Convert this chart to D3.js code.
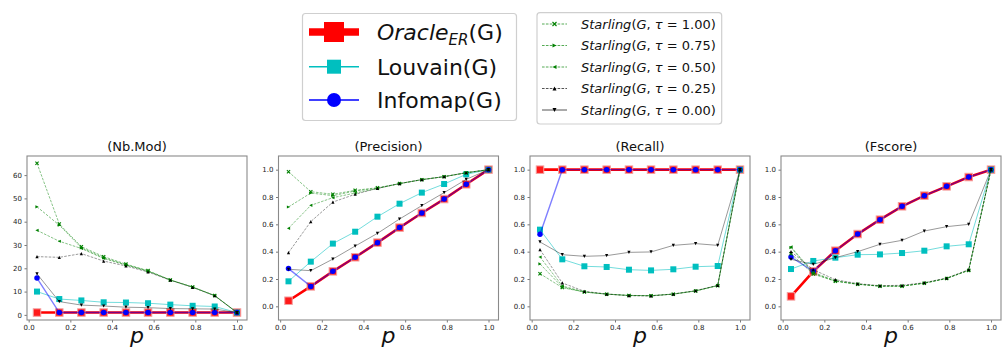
<!DOCTYPE html>
<html>
<head>
<meta charset="utf-8">
<script src="https://cdn.jsdelivr.net/npm/d3@7/dist/d3.min.js"></script>
<style>
  html, body { margin: 0; padding: 0; background: #fff; }
  svg { display: block; font-family: "DejaVu Sans", sans-serif; }
</style>
</head>
<body>
<svg id="chart" width="1008" height="348"></svg>
<script>
// Edge probability p (x values shared by every panel)
const pValues = [0.04, 0.147, 0.253, 0.36, 0.467, 0.573, 0.68, 0.787, 0.893, 1.0];
const xTicks = [0.0, 0.2, 0.4, 0.6, 0.8, 1.0];

// (Nb.Mod)
const nbModOracle  = [1, 1, 1, 1, 1, 1, 1, 1, 1, 1];
const nbModLouvain = [10.0, 6.8, 6.2, 5.4, 5.3, 5.0, 4.4, 3.9, 3.6, 1.0];
const nbModInfomap = [15.8, 1, 1, 1, 1, 1, 1, 1, 1, 1];
const nbModS100 = [65.1, 39.0, 29.3, 25.0, 21.8, 19.0, 15.0, 12.0, 8.3, 1.0];
const nbModS075 = [46.4, 38.5, 28.8, 24.5, 21.5, 18.8, 15.0, 11.9, 8.3, 1.0];
const nbModS050 = [36.3, 31.6, 28.5, 24.2, 21.4, 18.7, 14.9, 11.9, 8.2, 1.0];
const nbModS025 = [25.0, 24.7, 26.3, 23.1, 21.0, 18.4, 14.9, 11.8, 8.2, 1.0];
const nbModS000 = [17.6, 5.7, 4.2, 3.8, 3.3, 3.1, 2.7, 2.6, 2.5, 1.0];

// (Precision)
const precOracle  = [0.041, 0.146, 0.256, 0.359, 0.466, 0.576, 0.683, 0.785, 0.893, 1.0];
const precLouvain = [0.183, 0.327, 0.459, 0.546, 0.656, 0.751, 0.832, 0.895, 0.966, 1.0];
const precInfomap = [0.276, 0.146, 0.256, 0.359, 0.466, 0.576, 0.683, 0.785, 0.893, 1.0];
const precS100 = [0.985, 0.839, 0.820, 0.849, 0.868, 0.898, 0.927, 0.949, 0.976, 1.0];
const precS075 = [0.727, 0.829, 0.810, 0.844, 0.864, 0.898, 0.927, 0.949, 0.978, 1.0];
const precS050 = [0.571, 0.739, 0.795, 0.829, 0.862, 0.898, 0.927, 0.949, 0.978, 1.0];
const precS025 = [0.393, 0.620, 0.763, 0.820, 0.863, 0.898, 0.927, 0.949, 0.978, 1.0];
const precS000 = [0.271, 0.261, 0.346, 0.441, 0.534, 0.639, 0.737, 0.832, 0.929, 1.0];

// (Recall)
const recOracle  = [1, 1, 1, 1, 1, 1, 1, 1, 1, 1];
const recLouvain = [0.561, 0.344, 0.293, 0.288, 0.268, 0.263, 0.271, 0.290, 0.295, 1.0];
const recInfomap = [0.527, 1, 1, 1, 1, 1, 1, 1, 1, 1];
const recS100 = [0.239, 0.137, 0.104, 0.089, 0.079, 0.077, 0.089, 0.112, 0.151, 1.0];
const recS075 = [0.310, 0.141, 0.105, 0.089, 0.080, 0.078, 0.090, 0.113, 0.152, 1.0];
const recS050 = [0.361, 0.149, 0.106, 0.090, 0.080, 0.078, 0.090, 0.113, 0.152, 1.0];
const recS025 = [0.415, 0.171, 0.110, 0.090, 0.078, 0.076, 0.090, 0.115, 0.154, 1.0];
const recS000 = [0.471, 0.378, 0.366, 0.371, 0.395, 0.398, 0.446, 0.459, 0.446, 1.0];

// (Fscore)
const fOracle  = [0.073, 0.256, 0.407, 0.529, 0.634, 0.732, 0.810, 0.878, 0.946, 1.0];
const fLouvain = [0.273, 0.332, 0.356, 0.378, 0.380, 0.390, 0.407, 0.439, 0.454, 1.0];
const fInfomap = [0.361, 0.256, 0.407, 0.529, 0.634, 0.732, 0.810, 0.878, 0.946, 1.0];
const fS100 = [0.385, 0.236, 0.183, 0.161, 0.147, 0.147, 0.169, 0.203, 0.263, 1.0];
const fS075 = [0.430, 0.241, 0.185, 0.162, 0.148, 0.148, 0.170, 0.204, 0.264, 1.0];
const fS050 = [0.435, 0.248, 0.187, 0.163, 0.148, 0.148, 0.170, 0.205, 0.265, 1.0];
const fS025 = [0.400, 0.268, 0.195, 0.166, 0.151, 0.154, 0.173, 0.207, 0.268, 1.0];
const fS000 = [0.344, 0.307, 0.356, 0.400, 0.454, 0.483, 0.551, 0.583, 0.600, 1.0];

const panelTitles = ["(Nb.Mod)", "(Precision)", "(Recall)", "(Fscore)"];
const nbModTicks = [0, 10, 20, 30, 40, 50, 60];
const rateTicks = [0.0, 0.2, 0.4, 0.6, 0.8, 1.0];

const starlingTaus = ["1.00", "0.75", "0.50", "0.25", "0.00"];

// ---- styles -------------------------------------------------------------
const GREEN = "#008000";
const styles = {
  oracle:  { color: "#ff0000", width: 2.6, dash: null, marker: "square", size: 7.5, opacity: 1 },
  louvain: { color: "#00bfbf", width: 1,   dash: null, marker: "square", size: 6,   opacity: 0.55 },
  infomap: { color: "#0000ff", width: 1.4, dash: null, marker: "circle", size: 5.5, opacity: 0.5 },
  s100: { color: GREEN,  width: 0.8, dash: "2.6,1.3", marker: "x",   size: 3.2, opacity: 0.6 },
  s075: { color: GREEN,  width: 0.8, dash: "2.6,1.3", marker: ">",   size: 3.2, opacity: 0.6 },
  s050: { color: GREEN,  width: 0.8, dash: "2.6,1.3", marker: "<",   size: 3.2, opacity: 0.6 },
  s025: { color: "#000", width: 0.8, dash: "2.6,1.3", marker: "^",   size: 3.2, opacity: 0.5 },
  s000: { color: "#000", width: 0.8, dash: null,      marker: "v",   size: 3.2, opacity: 0.5 }
};

const panels = [
  { title: panelTitles[0], yDomain: [-2.2, 68.2], yTicks: nbModTicks, fmt: d3.format("d"),
    series: { oracle: nbModOracle, louvain: nbModLouvain, infomap: nbModInfomap,
              s100: nbModS100, s075: nbModS075, s050: nbModS050, s025: nbModS025, s000: nbModS000 } },
  { title: panelTitles[1], yDomain: [-0.1, 1.1], yTicks: rateTicks, fmt: d3.format(".1f"),
    series: { oracle: precOracle, louvain: precLouvain, infomap: precInfomap,
              s100: precS100, s075: precS075, s050: precS050, s025: precS025, s000: precS000 } },
  { title: panelTitles[2], yDomain: [-0.1, 1.1], yTicks: rateTicks, fmt: d3.format(".1f"),
    series: { oracle: recOracle, louvain: recLouvain, infomap: recInfomap,
              s100: recS100, s075: recS075, s050: recS050, s025: recS025, s000: recS000 } },
  { title: panelTitles[3], yDomain: [-0.1, 1.1], yTicks: rateTicks, fmt: d3.format(".1f"),
    series: { oracle: fOracle, louvain: fLouvain, infomap: fInfomap,
              s100: fS100, s075: fS075, s050: fS050, s025: fS025, s000: fS000 } }
];

const drawOrder = ["oracle", "louvain", "infomap", "s100", "s075", "s050", "s025", "s000"];

// ---- marker drawing -----------------------------------------------------
function drawMarker(g, kind, x, y, s, st) {
  const h = s / 2;
  if (kind === "square") {
    g.append("rect").attr("x", x - h).attr("y", y - h).attr("width", s).attr("height", s)
      .attr("fill", st.color).attr("stroke", st.edge || "none").attr("stroke-width", st.edgeWidth || 0);
  } else if (kind === "circle") {
    g.append("circle").attr("cx", x).attr("cy", y).attr("r", h).attr("fill", st.color);
  } else if (kind === "x") {
    g.append("path").attr("d", `M${x-h},${y-h}L${x+h},${y+h}M${x-h},${y+h}L${x+h},${y-h}`)
      .attr("stroke", st.color).attr("stroke-width", 1.1).attr("fill", "none");
  } else {
    let pts;
    if (kind === "^") pts = [[x, y - h], [x + h, y + h], [x - h, y + h]];
    if (kind === "v") pts = [[x, y + h], [x + h, y - h], [x - h, y - h]];
    if (kind === ">") pts = [[x + h, y], [x - h, y - h], [x - h, y + h]];
    if (kind === "<") pts = [[x - h, y], [x + h, y - h], [x + h, y + h]];
    g.append("path").attr("d", "M" + pts.map(p => p.join(",")).join("L") + "Z").attr("fill", st.color);
  }
}

const svg = d3.select("#chart");

// ---- panels -------------------------------------------------------------
const axW = 220, axTop = 156, axBottom = 320;
const axLefts = [27, 278.5, 530, 781];

panels.forEach((pan, i) => {
  const left = axLefts[i];
  const x = d3.scaleLinear().domain([-0.008, 1.048]).range([left, left + axW]);
  const y = d3.scaleLinear().domain(pan.yDomain).range([axBottom, axTop]);
  const g = svg.append("g");

  // axes
  const xAxis = d3.axisBottom(x).tickValues(xTicks).tickFormat(d3.format(".1f")).tickSizeOuter(0).tickSize(2.5).tickPadding(2.5);
  const yAxis = d3.axisLeft(y).tickValues(pan.yTicks).tickFormat(pan.fmt).tickSizeOuter(0).tickSize(2.5).tickPadding(2.5);
  const gx = g.append("g").attr("transform", `translate(0,${axBottom})`).call(xAxis);
  const gy = g.append("g").attr("transform", `translate(${left},0)`).call(yAxis);
  [gx, gy].forEach(a => {
    a.select(".domain").remove();
    a.selectAll(".tick line").attr("stroke", "#555").attr("stroke-width", 0.8);
    a.selectAll(".tick text").attr("fill", "#222").style("font-size", "7px").style("font-family", "DejaVu Sans");
  });

  // series
  const layer = g.append("g");
  drawOrder.forEach(key => {
    const st = styles[key];
    const vals = pan.series[key];
    const line = d3.line().x((d, j) => x(pValues[j])).y(d => y(d));
    layer.append("path").datum(vals).attr("d", line)
      .attr("fill", "none").attr("stroke", st.color).attr("stroke-width", st.width)
      .attr("stroke-opacity", st.opacity)
      .attr("stroke-dasharray", st.dash);
    const mg = layer.append("g");
    const mst = key === "oracle" ? { color: "#ff1a1a", edge: "#f4a0a0", edgeWidth: 1 } : { color: st.color };
    vals.forEach((v, j) => drawMarker(mg, st.marker, x(pValues[j]), y(v), st.size, mst));
  });

  // frame
  g.append("rect").attr("x", left).attr("y", axTop).attr("width", axW).attr("height", axBottom - axTop)
    .attr("fill", "none").attr("stroke", "#8a8a8a").attr("stroke-width", 1.1);

  // title and x label
  g.append("text").attr("x", left + axW / 2).attr("y", 151).attr("text-anchor", "middle")
    .style("font-size", "13px").attr("fill", "#111").text(pan.title);
  g.append("text").attr("x", left + axW / 2).attr("y", 343).attr("text-anchor", "middle")
    .style("font-size", "22px").style("font-style", "italic").attr("fill", "#111").text("p");
});

// ---- legend: baselines --------------------------------------------------
const leg1 = svg.append("g");
leg1.append("rect").attr("x", 302.5).attr("y", 13.5).attr("width", 214).attr("height", 107)
  .attr("rx", 3).attr("fill", "#fff").attr("stroke", "#cfcfcf").attr("stroke-width", 1.2);
const leg1Items = [
  { key: "oracle",  y: 32,   lw: 7.7, ms: 20 },
  { key: "louvain", y: 66.7, lw: 1.4, ms: 14 },
  { key: "infomap", y: 100,  lw: 1.4, ms: 14 }
];
leg1Items.forEach(it => {
  const st = styles[it.key];
  leg1.append("line").attr("x1", 309).attr("x2", 359).attr("y1", it.y).attr("y2", it.y)
    .attr("stroke", st.color).attr("stroke-width", it.lw);
  drawMarker(leg1, st.marker, 334, it.y, it.ms, { color: st.color });
});
const t1 = leg1.append("text").attr("x", 377).attr("y", 40).style("font-size", "22px").attr("fill", "#111");
t1.append("tspan").style("font-style", "italic").text("Oracle");
t1.append("tspan").style("font-style", "italic").style("font-size", "15px").attr("dy", 4.5).text("ER");
t1.append("tspan").attr("dy", -4.5).text("(G)");
leg1.append("text").attr("x", 377).attr("y", 74.5).style("font-size", "22px").attr("fill", "#111").text("Louvain(G)");
leg1.append("text").attr("x", 377).attr("y", 108).style("font-size", "22px").attr("fill", "#111").text("Infomap(G)");

// ---- legend: Starling thresholds ---------------------------------------
const leg2 = svg.append("g");
leg2.append("rect").attr("x", 537).attr("y", 12.7).attr("width", 184.7).attr("height", 111.3)
  .attr("rx", 3).attr("fill", "#fff").attr("stroke", "#cfcfcf").attr("stroke-width", 1.2);
const leg2Keys = ["s100", "s075", "s050", "s025", "s000"];
const leg2Y = [24, 45.5, 67, 88.5, 110];
leg2Keys.forEach((key, i) => {
  const st = styles[key];
  const yy = leg2Y[i];
  leg2.append("line").attr("x1", 542).attr("x2", 567).attr("y1", yy).attr("y2", yy)
    .attr("stroke", st.color).attr("stroke-width", 0.9).attr("stroke-opacity", 0.75)
    .attr("stroke-dasharray", st.dash);
  drawMarker(leg2, st.marker, 554.5, yy, 4, { color: st.color });
  const t = leg2.append("text").attr("x", 581).attr("y", yy + 4.7).style("font-size", "13px").attr("fill", "#111");
  t.append("tspan").style("font-style", "italic").text("Starling");
  t.append("tspan").text("(");
  t.append("tspan").style("font-style", "italic").text("G");
  t.append("tspan").text(", ");
  t.append("tspan").style("font-style", "italic").text("τ");
  t.append("tspan").text(" = " + starlingTaus[i] + ")");
});
</script>
</body>
</html>
